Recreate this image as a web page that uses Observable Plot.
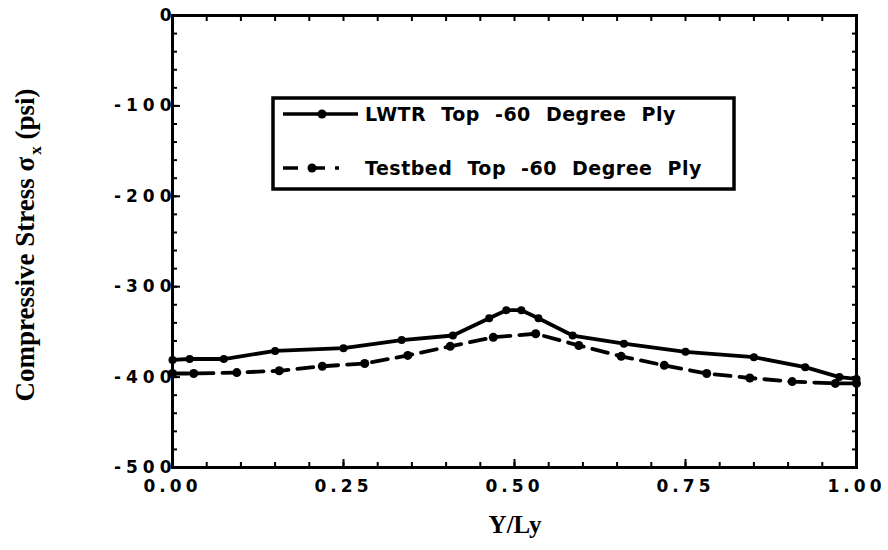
<!DOCTYPE html>
<html>
<head>
<meta charset="utf-8">
<script src="https://cdn.jsdelivr.net/npm/d3@7"></script>
<script src="https://cdn.jsdelivr.net/npm/@observablehq/plot@0.6"></script>
<style>
  html, body { margin: 0; padding: 0; background: white; }
  #chart svg { font-family: "DejaVu Sans", "Liberation Sans", sans-serif; }
</style>
</head>
<body>
<div id="chart"></div>
<script>
// ---- data ----
const lwtrX = [0, 0.025, 0.075, 0.15, 0.25, 0.335, 0.41, 0.463, 0.488, 0.51, 0.535, 0.585, 0.66, 0.75, 0.85, 0.925, 0.975, 1.0];
const lwtrY = [-381, -380, -380, -371, -368, -359, -354, -335, -326, -326, -335, -354, -363, -372, -378, -389, -400, -402];
const testX = [0, 0.031, 0.094, 0.156, 0.219, 0.281, 0.344, 0.406, 0.469, 0.531, 0.594, 0.656, 0.719, 0.781, 0.844, 0.906, 0.969, 1.0];
const testY = [-396, -396, -395, -393, -388, -385, -376, -366, -356, -352, -365, -377, -387, -396, -401, -405, -407, -407];
const seriesNames = ["LWTR Top -60 Degree Ply", "Testbed Top -60 Degree Ply"];
const xTickValues = [0, 0.25, 0.5, 0.75, 1.0];
const xTickLabels = ["0.00", "0.25", "0.50", "0.75", "1.00"];
const yTickValues = [0, -100, -200, -300, -400, -500];
const yTickLabels = ["0", "-100", "-200", "-300", "-400", "-500"];
const xTitle = "Y/Ly";
const yTitleParts = ["Compressive Stress σ", "x", " (psi)"];

const lwtr = lwtrX.map((x, i) => ({x, y: lwtrY[i]}));
const test = testX.map((x, i) => ({x, y: testY[i]}));
const minorX = d3.range(0, 21).map(i => i / 20);
const minorY = d3.range(0, 26).map(i => -i * 20);

const plot = Plot.plot({
  width: 888,
  height: 550,
  marginLeft: 172,
  marginRight: 32,
  marginTop: 15,
  marginBottom: 83,
  style: {background: "white", color: "black", overflow: "visible"},
  x: {domain: [0, 1]},
  y: {domain: [-500, 0]},
  marks: [
    // inward minor ticks on all four sides
    Plot.axisX(minorX, {anchor: "bottom", tickSize: -5, tickFormat: () => "", label: null, strokeWidth: 2}),
    Plot.axisX(minorX, {anchor: "top", tickSize: -5, tickFormat: () => "", label: null, strokeWidth: 2}),
    Plot.axisY(minorY, {anchor: "left", tickSize: -5, tickFormat: () => "", label: null, strokeWidth: 2}),
    Plot.axisY(minorY, {anchor: "right", tickSize: -5, tickFormat: () => "", label: null, strokeWidth: 2}),
    Plot.axisX(xTickValues, {anchor: "bottom", tickSize: -8, tickPadding: 20, strokeWidth: 2,
      tickFormat: d => xTickLabels[xTickValues.indexOf(d)], fontSize: 17, fontWeight: "bold", label: null}),
    Plot.axisY(yTickValues, {anchor: "left", tickSize: -8, tickPadding: 4, strokeWidth: 2,
      tickFormat: d => yTickLabels[yTickValues.indexOf(d)], fontSize: 17, fontWeight: "bold", label: null}),
    Plot.frame({stroke: "black", strokeWidth: 3}),
    Plot.line(lwtr, {x: "x", y: "y", stroke: "black", strokeWidth: 3.8}),
    Plot.dot(lwtr, {x: "x", y: "y", r: 4, fill: "black"}),
    Plot.line(test, {x: "x", y: "y", stroke: "black", strokeWidth: 3.8, strokeDasharray: "16,9"}),
    Plot.dot(test, {x: "x", y: "y", r: 4.5, fill: "black"})
  ]
});

document.getElementById("chart").appendChild(plot);
const svg = d3.select(plot);

svg.selectAll('g[aria-label="y-axis tick label"] text').style("letter-spacing", "5px");
svg.selectAll('g[aria-label="x-axis tick label"] text').style("letter-spacing", "4px");

// axis titles
svg.append("text")
  .attr("x", 515).attr("y", 533)
  .attr("text-anchor", "middle")
  .style("font-family", "'Liberation Serif', 'DejaVu Serif', serif")
  .style("font-weight", "bold").style("font-size", "25px")
  .text(xTitle);

const yt = svg.append("text")
  .attr("transform", "translate(34,245) rotate(-90)")
  .attr("text-anchor", "middle")
  .style("font-family", "'Liberation Serif', 'DejaVu Serif', serif")
  .style("font-weight", "bold").style("font-size", "27px");
yt.append("tspan").text(yTitleParts[0]);
yt.append("tspan").attr("dx", 2).attr("dy", 7).style("font-size", "17px").text(yTitleParts[1]);
yt.append("tspan").attr("dy", -7).text(yTitleParts[2]);

// legend
const lg = svg.append("g");
lg.append("rect")
  .attr("x", 273).attr("y", 98).attr("width", 461).attr("height", 91)
  .attr("fill", "white").attr("stroke", "black").attr("stroke-width", 3.5);
const rows = [{y: 114}, {y: 168}];
rows.forEach((r, i) => {
  lg.append("line")
    .attr("x1", 283).attr("x2", 358).attr("y1", r.y).attr("y2", r.y)
    .attr("stroke", "black").attr("stroke-width", 3.5)
    .attr("stroke-dasharray", i === 0 ? null : "15,10,17,10,4,20");
  lg.append("circle").attr("cx", i === 0 ? 322 : 312).attr("cy", r.y).attr("r", 4.5).attr("fill", "black");
  lg.append("text")
    .attr("x", 365).attr("y", r.y + 7)
    .attr("text-anchor", "start")
    .style("font-family", "'DejaVu Sans', sans-serif")
    .style("font-weight", "bold").style("font-size", "19px")
    .style("letter-spacing", "0.5px").style("word-spacing", "8px")
    .text(seriesNames[i]);
});
</script>
</body>
</html>
